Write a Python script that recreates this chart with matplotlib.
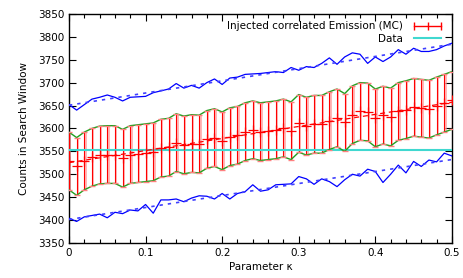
import numpy as np
import matplotlib
matplotlib.use('Agg')
import matplotlib.pyplot as plt
from matplotlib.lines import Line2D
from matplotlib.ticker import MultipleLocator

# parameter kappa scanned in steps of 0.01
kappa = [round(0.01 * i, 2) for i in range(51)]

# upper edge of the injected-emission band (mean + sigma)
band_upper = [3592, 3580, 3592, 3600, 3605, 3606, 3606, 3598, 3606, 3608,
              3610, 3612, 3620, 3622, 3632, 3627, 3630, 3629, 3639, 3643,
              3636, 3645, 3648, 3656, 3660, 3656, 3658, 3660, 3664, 3658,
              3674, 3668, 3672, 3672, 3680, 3686, 3676, 3693, 3700, 3699,
              3686, 3692, 3688, 3700, 3704, 3709, 3707, 3705, 3712, 3718,
              3724]
sigma = 63

# outer (blue) envelopes
outer_upper = [3652, 3640, 3652, 3664, 3668, 3673, 3668, 3660, 3668, 3669,
               3670, 3678, 3682, 3686, 3698, 3688, 3694, 3688, 3700, 3708,
               3696, 3710, 3712, 3718, 3719, 3720, 3722, 3724, 3722, 3733,
               3727, 3735, 3733, 3742, 3754, 3740, 3756, 3765, 3762, 3742,
               3756, 3746, 3756, 3772, 3762, 3775, 3768, 3768, 3772, 3780,
               3786]
outer_lower = [3404, 3397, 3407, 3410, 3413, 3405, 3417, 3414, 3422, 3420,
               3434, 3415, 3444, 3444, 3446, 3440, 3448, 3453, 3452, 3446,
               3458, 3446, 3458, 3462, 3477, 3463, 3466, 3477, 3478, 3479,
               3495, 3490, 3478, 3490, 3484, 3473, 3488, 3500, 3496, 3511,
               3506, 3482, 3500, 3520, 3503, 3528, 3517, 3531, 3527, 3546,
               3540]

data_counts = 3553

x = np.array(kappa)
up = np.array(band_upper)
mean = up - sigma
low = up - 2 * sigma

plt.rcParams['font.family'] = 'DejaVu Sans'
fig = plt.figure(figsize=(4.63, 2.78), dpi=100)
ax = fig.add_axes([0.149, 0.126, 0.827, 0.824])

# error bars: pale shadow then red
ax.vlines(x + 0.0018, low, up, color='#ff9090', lw=1.3, alpha=0.7, zorder=2)
ax.vlines(x, low, up, color='#ff0000', lw=0.8, zorder=3)
ax.plot(x, up, color='#1fa01f', lw=1.0, zorder=4)
ax.plot(x, low, color='#1fa01f', lw=1.0, zorder=4)
ax.plot(x, up, ls='none', marker='_', ms=4, mew=1.0, color='#ff8080', zorder=5)
ax.plot(x, low, ls='none', marker='_', ms=4, mew=1.0, color='#ff8080', zorder=5)
ax.plot(x, mean, ls='none', marker='+', ms=7, mew=0.9, color='#ff0000', zorder=5)

fit_mean = np.polyfit(x, mean, 1)
ax.plot(x, np.polyval(fit_mean, x), color='#ff0000', ls=(0, (4, 3)), lw=0.9, zorder=4)

ax.plot(x, outer_upper, color='#0000ff', lw=0.9, zorder=4)
ax.plot(x, outer_lower, color='#0000ff', lw=0.9, zorder=4)
fit_u = np.polyfit(x, outer_upper, 1)
fit_l = np.polyfit(x, outer_lower, 1)
ax.plot(x, np.polyval(fit_u, x), color='#4040ff', ls=(0, (2, 3)), lw=1.2, zorder=4)
ax.plot(x, np.polyval(fit_l, x), color='#4040ff', ls=(0, (2, 3)), lw=1.2, zorder=4)

ax.axhline(data_counts, color='#40d8d0', lw=1.5, zorder=3)

ax.set_xlim(0, 0.5)
ax.set_ylim(3350, 3850)
ax.xaxis.set_major_locator(MultipleLocator(0.1))
ax.xaxis.set_minor_locator(MultipleLocator(0.02))
ax.yaxis.set_major_locator(MultipleLocator(50))
ax.xaxis.set_ticks([0, 0.1, 0.2, 0.3, 0.4, 0.5])
ax.set_xticklabels(['0', '0.1', '0.2', '0.3', '0.4', '0.5'])
ax.tick_params(which='both', direction='in', top=True, right=True, labelsize=7.5, width=0.8)
ax.tick_params(which='major', length=5)
ax.tick_params(which='minor', length=3)
for s in ax.spines.values():
    s.set_linewidth(1.0)

ax.set_xlabel('Parameter κ', fontsize=7.5, labelpad=3)
ax.set_ylabel('Counts in Search Window', fontsize=7.5, labelpad=6)

h1 = Line2D([], [], color='#ff0000', lw=1.0, marker='|', ms=6, mew=1.0)
h2 = Line2D([], [], color='#40d8d0', lw=1.5)
ax.legend([h1, h2], ['Injected correlated Emission (MC)', 'Data'],
          loc='upper right', frameon=False, markerfirst=False, numpoints=3,
          fontsize=7.5, handlelength=3.2, borderaxespad=0.3, labelspacing=0.25,
          handletextpad=0.8)

fig.savefig('out.png', dpi=100)
